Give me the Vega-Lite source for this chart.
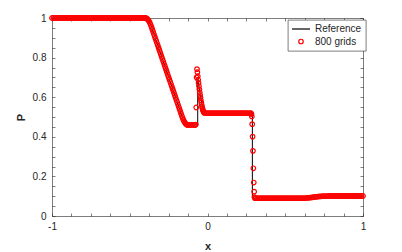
{
 "$schema": "https://vega.github.io/schema/vega-lite/v6.json",
 "width": 311, "height": 198,
 "autosize": {"type": "none"},
 "padding": {"left": 52, "top": 18, "right": 39, "bottom": 36},
 "background": "white",
 "config": {
  "view": {"stroke": null},
  "font": "Liberation Sans",
  "axis": {"domainColor": "#262626", "domainWidth": 0.6, "tickColor": "#262626", "tickWidth": 0.6, "tickSize": -3, "labelFont": "Liberation Sans", "labelFontSize": 10, "labelColor": "#262626", "grid": false, "titleFont": "Liberation Sans", "titleFontSize": 11, "titleColor": "#262626", "labelFlush": false, "labelOverlap": false},
  "legend": {"padding": 4, "strokeColor": "#262626", "strokeWidth": 0.6, "fillColor": "white", "labelFont": "Liberation Sans", "labelFontSize": 10, "labelColor": "#262626", "symbolType": "stroke", "symbolStrokeWidth": 1.2, "rowPadding": 2.5}
 },
 "datasets": {
  "ref": [
   {"x":-1,"p":1},{"x":-0.38,"p":1},{"x":-0.145,"p":0.46},{"x":-0.063,"p":0.46},{"x":-0.063,"p":0.70},{"x":-0.055,"p":0.655},{"x":-0.045,"p":0.605},{"x":-0.035,"p":0.562},{"x":-0.028,"p":0.538},{"x":-0.02,"p":0.524},{"x":-0.01,"p":0.52},{"x":0.2885,"p":0.52},{"x":0.2885,"p":0.09},{"x":0.61,"p":0.09},{"x":0.66,"p":0.093},{"x":0.72,"p":0.098},{"x":0.78,"p":0.1005},{"x":0.82,"p":0.101},{"x":1,"p":0.101}
  ],
  "num": [
   {"x":-1,"p":1},{"x":-0.99,"p":1},{"x":-0.98,"p":1},{"x":-0.97,"p":1},{"x":-0.96,"p":1},{"x":-0.95,"p":1},{"x":-0.94,"p":1},{"x":-0.93,"p":1},{"x":-0.92,"p":1},{"x":-0.91,"p":1},
   {"x":-0.9,"p":1},{"x":-0.89,"p":1},{"x":-0.88,"p":1},{"x":-0.87,"p":1},{"x":-0.86,"p":1},{"x":-0.85,"p":1},{"x":-0.84,"p":1},{"x":-0.83,"p":1},{"x":-0.82,"p":1},{"x":-0.81,"p":1},
   {"x":-0.8,"p":1},{"x":-0.79,"p":1},{"x":-0.78,"p":1},{"x":-0.77,"p":1},{"x":-0.76,"p":1},{"x":-0.75,"p":1},{"x":-0.74,"p":1},{"x":-0.73,"p":1},{"x":-0.72,"p":1},{"x":-0.71,"p":1},
   {"x":-0.7,"p":1},{"x":-0.69,"p":1},{"x":-0.68,"p":1},{"x":-0.67,"p":1},{"x":-0.66,"p":1},{"x":-0.65,"p":1},{"x":-0.64,"p":1},{"x":-0.63,"p":1},{"x":-0.62,"p":1},{"x":-0.61,"p":1},
   {"x":-0.6,"p":1},{"x":-0.59,"p":1},{"x":-0.58,"p":1},{"x":-0.57,"p":1},{"x":-0.56,"p":1},{"x":-0.55,"p":1},{"x":-0.54,"p":1},{"x":-0.53,"p":1},{"x":-0.52,"p":1},{"x":-0.51,"p":1},
   {"x":-0.5,"p":1},{"x":-0.49,"p":1},{"x":-0.48,"p":1},{"x":-0.47,"p":1},{"x":-0.46,"p":1},{"x":-0.45,"p":1},{"x":-0.44,"p":1},{"x":-0.43,"p":1},{"x":-0.42,"p":1},{"x":-0.41,"p":1},
   {"x":-0.405,"p":1},{"x":-0.4,"p":1},{"x":-0.395,"p":0.9993},{"x":-0.39,"p":0.997},{"x":-0.385,"p":0.9935},{"x":-0.38,"p":0.9885},{"x":-0.375,"p":0.982},{"x":-0.37,"p":0.974},{"x":-0.365,"p":0.965},{"x":-0.36,"p":0.954},
   {"x":-0.355,"p":0.9425},{"x":-0.35,"p":0.931},{"x":-0.345,"p":0.9195},{"x":-0.34,"p":0.908},{"x":-0.335,"p":0.8965},{"x":-0.33,"p":0.885},{"x":-0.325,"p":0.8735},{"x":-0.32,"p":0.862},{"x":-0.315,"p":0.8505},{"x":-0.31,"p":0.839},
   {"x":-0.305,"p":0.8275},{"x":-0.3,"p":0.816},{"x":-0.295,"p":0.8045},{"x":-0.29,"p":0.793},{"x":-0.285,"p":0.7815},{"x":-0.28,"p":0.77},{"x":-0.275,"p":0.7585},{"x":-0.27,"p":0.747},{"x":-0.265,"p":0.7355},{"x":-0.26,"p":0.724},
   {"x":-0.255,"p":0.7125},{"x":-0.25,"p":0.701},{"x":-0.245,"p":0.6895},{"x":-0.24,"p":0.678},{"x":-0.235,"p":0.6665},{"x":-0.23,"p":0.655},{"x":-0.225,"p":0.6435},{"x":-0.22,"p":0.632},{"x":-0.215,"p":0.6205},{"x":-0.21,"p":0.609},
   {"x":-0.205,"p":0.5975},{"x":-0.2,"p":0.586},{"x":-0.195,"p":0.5745},{"x":-0.19,"p":0.563},{"x":-0.185,"p":0.5515},{"x":-0.18,"p":0.54},{"x":-0.175,"p":0.5285},{"x":-0.17,"p":0.517},{"x":-0.165,"p":0.5055},{"x":-0.16,"p":0.4947},
   {"x":-0.155,"p":0.4854},{"x":-0.15,"p":0.4775},{"x":-0.145,"p":0.471},{"x":-0.14,"p":0.466},{"x":-0.135,"p":0.4624},{"x":-0.13,"p":0.4602},{"x":-0.125,"p":0.4595},{"x":-0.115,"p":0.46},{"x":-0.105,"p":0.46},{"x":-0.095,"p":0.46},
   {"x":-0.085,"p":0.46},{"x":-0.08,"p":0.46},{"x":-0.075,"p":0.462},
   {"x":-0.0725,"p":0.548},{"x":-0.07,"p":0.7},{"x":-0.0675,"p":0.742},{"x":-0.065,"p":0.726},{"x":-0.0625,"p":0.706},{"x":-0.06,"p":0.688},{"x":-0.0575,"p":0.672},{"x":-0.055,"p":0.656},{"x":-0.0525,"p":0.64},{"x":-0.05,"p":0.625},
   {"x":-0.0475,"p":0.611},{"x":-0.045,"p":0.598},{"x":-0.0425,"p":0.585},{"x":-0.04,"p":0.573},{"x":-0.0375,"p":0.562},{"x":-0.035,"p":0.552},{"x":-0.0325,"p":0.543},{"x":-0.03,"p":0.536},{"x":-0.0275,"p":0.53},{"x":-0.025,"p":0.526},
   {"x":-0.0225,"p":0.523},{"x":-0.02,"p":0.521},{"x":-0.01,"p":0.52},{"x":0,"p":0.52},{"x":0.01,"p":0.52},{"x":0.02,"p":0.52},{"x":0.03,"p":0.52},{"x":0.04,"p":0.52},{"x":0.05,"p":0.52},{"x":0.06,"p":0.52},
   {"x":0.07,"p":0.52},{"x":0.08,"p":0.52},{"x":0.09,"p":0.52},{"x":0.1,"p":0.52},{"x":0.11,"p":0.52},{"x":0.12,"p":0.52},{"x":0.13,"p":0.52},{"x":0.14,"p":0.52},{"x":0.15,"p":0.52},{"x":0.16,"p":0.52},
   {"x":0.17,"p":0.52},{"x":0.18,"p":0.52},{"x":0.19,"p":0.52},{"x":0.2,"p":0.52},{"x":0.21,"p":0.52},{"x":0.22,"p":0.52},{"x":0.23,"p":0.52},{"x":0.24,"p":0.52},{"x":0.25,"p":0.52},{"x":0.26,"p":0.52},
   {"x":0.27,"p":0.52},{"x":0.28,"p":0.519},{"x":0.2825,"p":0.515},{"x":0.285,"p":0.503},{"x":0.2875,"p":0.464},{"x":0.29,"p":0.401},{"x":0.2925,"p":0.329},{"x":0.295,"p":0.241},{"x":0.2975,"p":0.169},{"x":0.3,"p":0.123},
   {"x":0.3025,"p":0.095},{"x":0.305,"p":0.09},{"x":0.31,"p":0.09},{"x":0.32,"p":0.09},{"x":0.33,"p":0.09},{"x":0.34,"p":0.09},{"x":0.35,"p":0.09},{"x":0.36,"p":0.09},{"x":0.37,"p":0.09},{"x":0.38,"p":0.09},
   {"x":0.39,"p":0.09},{"x":0.4,"p":0.09},{"x":0.41,"p":0.09},{"x":0.42,"p":0.09},{"x":0.43,"p":0.09},{"x":0.44,"p":0.09},{"x":0.45,"p":0.09},{"x":0.46,"p":0.09},{"x":0.47,"p":0.09},{"x":0.48,"p":0.09},
   {"x":0.49,"p":0.09},{"x":0.5,"p":0.09},{"x":0.51,"p":0.09},{"x":0.52,"p":0.09},{"x":0.53,"p":0.09},{"x":0.54,"p":0.09},{"x":0.55,"p":0.09},{"x":0.56,"p":0.09},{"x":0.57,"p":0.09},{"x":0.58,"p":0.09},
   {"x":0.59,"p":0.09},{"x":0.6,"p":0.09},{"x":0.61,"p":0.09},{"x":0.62,"p":0.0902},{"x":0.63,"p":0.0906},{"x":0.64,"p":0.0912},{"x":0.65,"p":0.092},{"x":0.66,"p":0.093},{"x":0.67,"p":0.094},{"x":0.68,"p":0.095},
   {"x":0.69,"p":0.096},{"x":0.7,"p":0.097},{"x":0.71,"p":0.098},{"x":0.72,"p":0.0988},{"x":0.73,"p":0.0995},{"x":0.74,"p":0.1},{"x":0.75,"p":0.1004},{"x":0.76,"p":0.1007},{"x":0.77,"p":0.1009},{"x":0.78,"p":0.101},
   {"x":0.79,"p":0.101},{"x":0.8,"p":0.101},{"x":0.81,"p":0.101},{"x":0.82,"p":0.101},{"x":0.83,"p":0.101},{"x":0.84,"p":0.101},{"x":0.85,"p":0.101},{"x":0.86,"p":0.101},{"x":0.87,"p":0.101},{"x":0.88,"p":0.101},
   {"x":0.89,"p":0.101},{"x":0.9,"p":0.101},{"x":0.91,"p":0.101},{"x":0.92,"p":0.101},{"x":0.93,"p":0.101},{"x":0.94,"p":0.101},{"x":0.95,"p":0.101},{"x":0.96,"p":0.101},{"x":0.97,"p":0.101},{"x":0.98,"p":0.101},
   {"x":0.99,"p":0.101},{"x":1,"p":0.101}
  ]
 },
 "resolve": {"axis": {"x": "independent", "y": "independent"}},
 "layer": [
  {
   "data": {"name": "ref"},
   "mark": {"type": "line", "strokeWidth": 1},
   "encoding": {
    "x": {"field": "x", "type": "quantitative", "scale": {"domain": [-1, 1], "nice": false, "zero": false},
      "axis": {"orient": "bottom", "values": [-1,-0.875,-0.75,-0.625,-0.5,-0.375,-0.25,-0.125,0,0.125,0.25,0.375,0.5,0.625,0.75,0.875,1], "labelExpr": "abs(datum.value - round(datum.value)) < 0.001 ? ('' + round(datum.value)) : ''", "title": "x", "labelPadding": 8, "titlePadding": 9}},
    "y": {"field": "p", "type": "quantitative", "scale": {"domain": [0, 1], "nice": false, "zero": false},
      "axis": {"orient": "left", "values": [0,0.05,0.1,0.15,0.2,0.25,0.3,0.35,0.4,0.45,0.5,0.55,0.6,0.65,0.7,0.75,0.8,0.85,0.9,0.95,1], "labelExpr": "abs(datum.value*5 - round(datum.value*5)) < 0.001 ? ('' + round(datum.value*10)/10) : ''", "title": "P", "titleFontWeight": "bold", "labelPadding": 9, "titlePadding": 6}},
    "color": {"datum": "Reference", "scale": {"domain": ["Reference", "800 grids"], "range": ["#000000", "#ff0000"]},
      "legend": {"title": null, "orient": "none", "legendX": 236, "legendY": 2, "labelOffset": 9, "symbolOffset": 4, "padding": 4, "labelFont": "Liberation Sans", "labelFontSize": 10,
        "encode": {"symbols": {"update": {"shape": {"signal": "datum.value === 'Reference' ? 'stroke' : 'circle'"}, "size": {"signal": "datum.value === 'Reference' ? 324 : 20"}, "strokeWidth": {"value": 1.2}, "fill": {"value": "transparent"}}}}}},
    "order": {"value": null}
   }
  },
  {
   "data": {"name": "num"},
   "mark": {"type": "point", "shape": "circle", "filled": false, "size": 21, "strokeWidth": 1.2, "opacity": 1},
   "encoding": {
    "x": {"field": "x", "type": "quantitative",
      "axis": {"orient": "top", "values": [-1,-0.875,-0.75,-0.625,-0.5,-0.375,-0.25,-0.125,0,0.125,0.25,0.375,0.5,0.625,0.75,0.875,1], "labels": false, "title": null}},
    "y": {"field": "p", "type": "quantitative",
      "axis": {"orient": "right", "values": [0,0.05,0.1,0.15,0.2,0.25,0.3,0.35,0.4,0.45,0.5,0.55,0.6,0.65,0.7,0.75,0.8,0.85,0.9,0.95,1], "labels": false, "title": null}},
    "color": {"datum": "800 grids"}
   }
  }
 ]
}
